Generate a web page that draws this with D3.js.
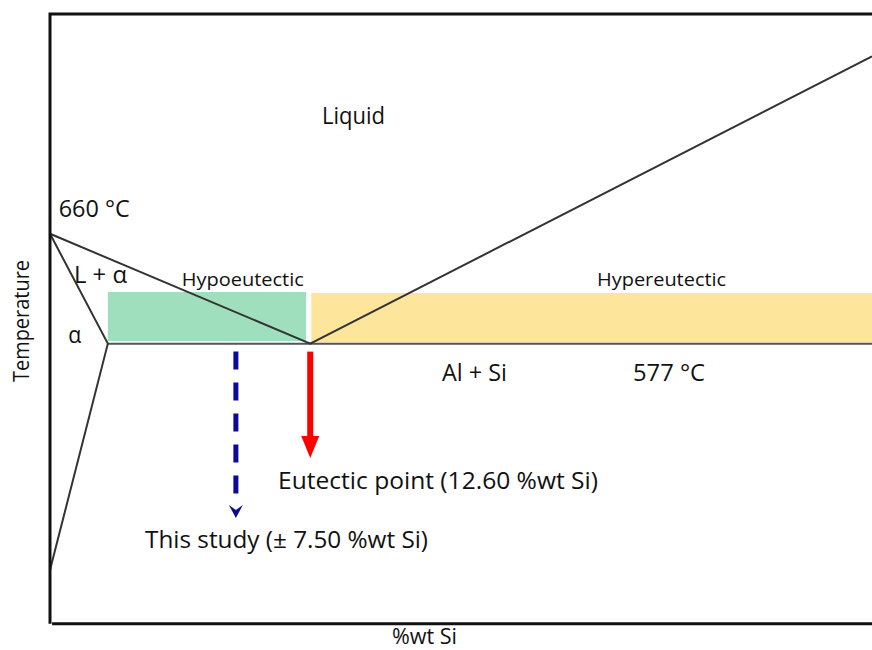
<!DOCTYPE html>
<html><head><meta charset="utf-8">
<script src="https://cdn.jsdelivr.net/npm/d3@7"></script>
<style>body{margin:0;background:#fff}svg{display:block}</style>
</head><body>
<script>
// ---- Data (x: %wt Si, schematic; y: temperature °C) ----
const meltAl = [0, 660];
const eutectic = [12.6, 577];
const solubility = [2.8, 577];
const liquidusRightEnd = [39.8, 794];
const solvusEnd = [0, 406];
const eutecticLineEnd = [39.8, 577];
const studyX = 9.0;
const hypoRegion = [2.8, 12.4, 579, 616];
const hyperRegion = [12.65, 39.8, 578, 615.3];
const labelTexts = ["Liquid","660 °C","L + α","α","Hypoeutectic","Hypereutectic",
  "Al + Si","577 °C","Eutectic point (12.60 %wt Si)","This study (± 7.50 %wt Si)"];
const xTitle = "%wt Si", yTitle = "Temperature";

// ---- Layout (anchor in data coords, font size, target width px) ----
const labelLayout = [
  [13.17,742.9,23,63],[0.42,672.7,23,71],[1.16,622.8,23,53],[0.886,577.5,23,13],
  [6.38,620.5,18,122],[26.49,620.5,18,129],[18.98,548.8,23,65],[28.23,548.8,23,72],
  [11.04,467.2,23,320],[4.6,422.7,23,283]
];

const W=872,H=650;
const x = d3.scaleLinear().domain([0,39.8]).range([50,872]);
const y = d3.scaleLinear().domain([366,826]).range([623,14]);
const svg = d3.select("body").append("svg").attr("width",W).attr("height",H);
const font = "'Open Sans', sans-serif";

// regions
svg.append("rect").attr("x",x(hypoRegion[0])).attr("y",y(hypoRegion[3]))
  .attr("width",x(hypoRegion[1])-x(hypoRegion[0])).attr("height",y(hypoRegion[2])-y(hypoRegion[3]))
  .attr("fill","#a0dfbd");
svg.append("rect").attr("x",x(hyperRegion[0])).attr("y",y(hyperRegion[3]))
  .attr("width",x(hyperRegion[1])-x(hyperRegion[0])).attr("height",y(hyperRegion[2])-y(hyperRegion[3]))
  .attr("fill","#fde59c");

const line = d3.line().x(d=>x(d[0])).y(d=>y(d[1]));
const seg = (pts, col, w) => svg.append("path").attr("d", line(pts)).attr("fill","none")
  .attr("stroke", col).attr("stroke-width", w);
seg([solubility, eutecticLineEnd], "#555", 2);
seg([meltAl, eutectic, liquidusRightEnd], "#333", 2);
seg([meltAl, solubility, solvusEnd], "#333", 2);

// frame
seg([[0,365.5],[0,826],[39.8,826]], "#111", 3);
seg([[0.1,365.5],[39.8,365.5]], "#111", 3);

// blue dashed arrow
svg.append("line").attr("x1",x(studyX)).attr("x2",x(studyX))
  .attr("y1",y(571)).attr("y2",y(456))
  .attr("stroke","#0a0a96").attr("stroke-width",5).attr("stroke-dasharray","18,13");
{
  const cx=x(studyX), ty=y(445.3);
  svg.append("path").attr("d",`M${cx-7},${ty-13} L${cx},${ty} L${cx+7},${ty-13} L${cx},${ty-8} Z`)
    .attr("fill","#0a0a96");
}
// red arrow
svg.append("line").attr("x1",x(eutectic[0])).attr("x2",x(eutectic[0]))
  .attr("y1",y(571)).attr("y2",y(500))
  .attr("stroke","#ff0000").attr("stroke-width",6);
{
  const cx=x(eutectic[0]), ty=y(490.6);
  svg.append("path").attr("d",`M${cx-9},${ty-22} L${cx},${ty} L${cx+9},${ty-22} Z`)
    .attr("fill","#ff0000");
}

// labels
labelTexts.forEach((t,i)=>{
  const [lx,ly,fs,tw]=labelLayout[i];
  svg.append("text").attr("x",x(lx)).attr("y",y(ly))
    .attr("font-family",font).attr("font-size",fs)
    .attr("textLength",tw).attr("lengthAdjust","spacingAndGlyphs")
    .attr("fill","#111").text(t);
});
svg.append("text").attr("x",392).attr("y",644)
  .attr("font-family",font).attr("font-size",21).attr("textLength",65).attr("lengthAdjust","spacingAndGlyphs")
  .attr("fill","#111").text(xTitle);
svg.append("text").attr("transform","translate(29,321) rotate(-90)").attr("text-anchor","middle")
  .attr("font-family",font).attr("font-size",22).attr("textLength",122).attr("lengthAdjust","spacingAndGlyphs")
  .attr("fill","#111").text(yTitle);
</script>
</body></html>
